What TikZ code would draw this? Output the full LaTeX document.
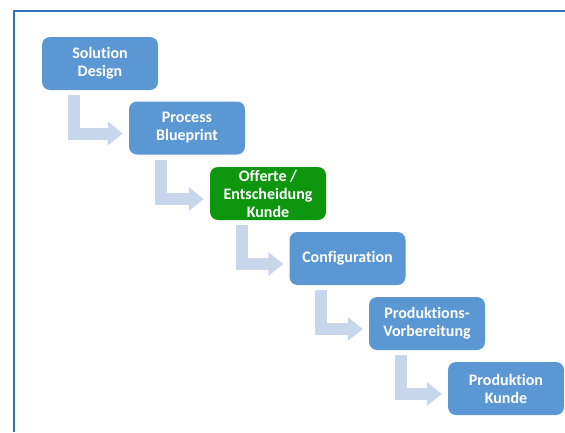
\documentclass[tikz,border=0pt]{standalone}
\usepackage{fontspec}
\setmainfont{Carlito}[Ligatures=NoCommon]
\usepackage{tikz}
\usetikzlibrary{arrows.meta}
\definecolor{boxblue}{RGB}{91,152,211}
\definecolor{boxgreen}{RGB}{14,150,14}
\definecolor{flowblue}{RGB}{200,214,235}
\definecolor{frameblue}{RGB}{46,117,182}

\begin{document}
\begin{tikzpicture}[x=1pt, y=-1pt, stepbox/.style={rectangle, rounded corners=8pt, fill=boxblue, text=white, font=\fontsize{16}{18}\selectfont\bfseries, align=center, minimum width=116pt, minimum height=53pt, inner xsep=2pt, inner ysep=0pt}, hl/.style={stepbox, fill=boxgreen}, flow/.style={draw=flowblue, line width=12pt, -{Triangle[length=15pt, width=23pt]}}]
                \useasboundingbox (0,0) rectangle (565,432);
                % frame
                \draw[frameblue, line width=2pt] (565,11) -- (14,11) -- (14,432);
                % nodes
                \node[stepbox] (sol) at (100,63.5) {Solution\\Design};
                \node[stepbox] (bp) at (187,128) {Process\\Blueprint};
                \node[hl] (off) at (268,193.5) {Offerte /\\Entscheidung\\Kunde};
                \node[stepbox] (cfg) at (347.5,258.5) {Configuration};
                \node[stepbox] (vor) at (427,323.5) {Produktions-\\Vorbereitung};
                \node[stepbox] (prod) at (506,388.5) {Produktion\\Kunde};
                % edges
                \draw[flow] ([xshift=32pt, yshift=-5pt]sol.south west) |- ([xshift=-6pt, yshift=-5.5pt]bp.west);
                \draw[flow] ([xshift=32pt, yshift=-5pt]bp.south west) |- ([xshift=-6pt, yshift=-5.5pt]off.west);
                \draw[flow] ([xshift=32pt, yshift=-5pt]off.south west) |- ([xshift=-6pt, yshift=-5.5pt]cfg.west);
                \draw[flow] ([xshift=32pt, yshift=-5pt]cfg.south west) |- ([xshift=-6pt, yshift=-5.5pt]vor.west);
                \draw[flow] ([xshift=32pt, yshift=-5pt]vor.south west) |- ([xshift=-6pt, yshift=-5.5pt]prod.west);
            \end{tikzpicture}
\end{document}
